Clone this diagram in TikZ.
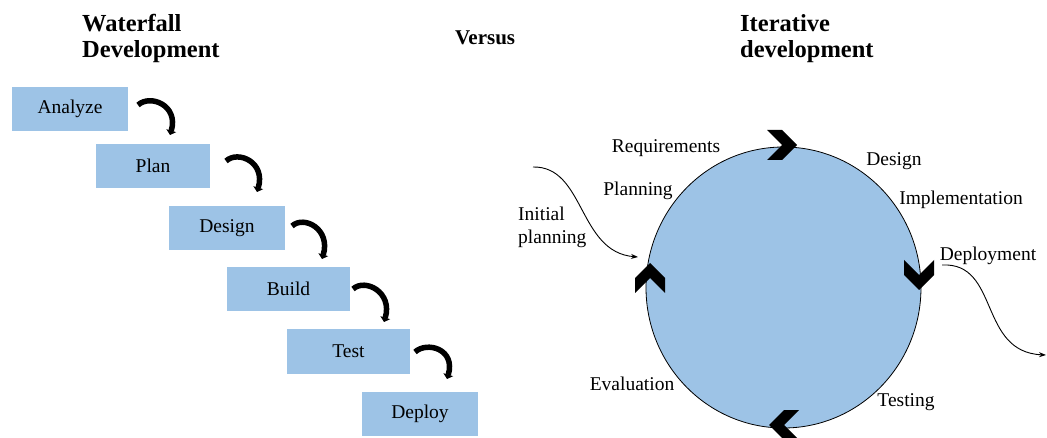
\documentclass[tikz,border=0pt]{standalone}
\usepackage{fontspec}
\setmainfont{Liberation Serif}
\usetikzlibrary{arrows.meta,calc,shapes.geometric}
\definecolor{boxblue}{RGB}{157,195,230}
\tikzset{
  chevR/.pic={\fill[black] (-15,-15) -- (0,-15) -- (15,0) -- (0,15) -- (-15,15) -- (0,0) -- cycle;},
  chevD/.pic={\fill[black] (-15,-15) -- (-15,0) -- (0,15) -- (15,0) -- (15,-15) -- (0,0) -- cycle;},
  chevL/.pic={\fill[black] (15,-15) -- (0,-15) -- (-15,0) -- (0,15) -- (15,15) -- (0,0) -- cycle;},
  chevU/.pic={\fill[black] (-15,15) -- (-15,0) -- (0,-15) -- (15,0) -- (15,15) -- (0,0) -- cycle;}
}
\begin{document}
\begin{tikzpicture}[x=1pt,y=-1pt,
  stage/.style={draw=none, fill=boxblue, minimum height=44pt, inner sep=0pt, font=\fontsize{19.5}{23}\selectfont},
  lbl/.style={inner sep=0pt, font=\fontsize{19.5}{23}\selectfont, anchor=base},
  ttl/.style={inner sep=0pt, font=\fontsize{24.5}{26}\selectfont\bfseries, align=left, anchor=north west},
  flow/.style={line width=5.5pt, -{Triangle[width=10pt,length=4.5pt]}},
  thinarrow/.style={line width=0.9pt, -{Stealth[length=7pt,width=5pt]}}
]
\useasboundingbox (0,0) rectangle (1047,438);

% titles
\node[ttl] (wt) at (82,14) {Waterfall\\Development};
\node[inner sep=0pt, font=\fontsize{21}{24}\selectfont\bfseries, anchor=base west] (vs) at (455,45) {Versus};
\node[ttl] (it) at (740,14) {Iterative\\development};

% waterfall stages
\node[stage, minimum width=116pt] (an) at (70,109) {\raisebox{-1.5pt}{Analyze}};
\node[stage, minimum width=114pt] (pl) at (153,166) {\raisebox{-1.5pt}{Plan}};
\node[stage, minimum width=116pt] (de) at (227,228) {\raisebox{-1.5pt}{Design}};
\node[stage, minimum width=123pt] (bu) at (288.5,289) {\raisebox{-1.5pt}{Build}};
\node[stage, minimum width=123pt] (te) at (348.5,351.5) {\raisebox{-1.5pt}{Test}};
\node[stage, minimum width=116pt] (dp) at (420,414) {\raisebox{-1.5pt}{Deploy}};

\coordinate (a1s) at (138,105); \coordinate (a1e) at (170,135);
\coordinate (a2s) at (226,161); \coordinate (a2e) at (257,192);
\coordinate (a3s) at (292,226); \coordinate (a3e) at (322,259);
\coordinate (a4s) at (353,289); \coordinate (a4e) at (384,322);
\coordinate (a5s) at (415,352); \coordinate (a5e) at (447,379);
\foreach \s/\e in {a1s/a1e,a2s/a2e,a3s/a3e,a4s/a4e,a5s/a5e}{
  \draw[flow] (\s) .. controls ($(\s)+(12,-11)$) and ($(\e)+(9,-30)$) .. (\e);
}

% iterative cycle
\node[ellipse, draw=black, line width=0.8pt, fill=boxblue, minimum width=275pt, minimum height=281pt, inner sep=0pt] (cyc) at (783.5,287.5) {};
\pic at (782,145) {chevR};
\pic at (919,275) {chevD};
\pic at (784,425) {chevL};
\pic at (650,278) {chevU};

\node[lbl] (req) at (666,153) {Requirements};
\node[lbl] (pla) at (638,196) {Planning};
\node[lbl, anchor=base west] (ini1) at (518,221) {Initial};
\node[lbl, anchor=base west] (ini2) at (518,244) {planning};
\node[lbl] (des) at (894,166) {Design};
\node[lbl] (imp) at (961,205) {Implementation};
\node[lbl] (dep) at (988,261) {Deployment};
\node[lbl] (eva) at (632,390) {Evaluation};
\node[lbl] (tes) at (906,406) {Testing};

\coordinate (is) at (533,167); \coordinate (ie) at (638,257);
\draw[thinarrow] (is) .. controls (585,166) and (578,252) .. (ie);
\coordinate (ds) at (942,265); \coordinate (de2) at (1046,355);
\draw[thinarrow] (ds) .. controls (1000,262) and (978,352) .. (de2);
\end{tikzpicture}
\end{document}
